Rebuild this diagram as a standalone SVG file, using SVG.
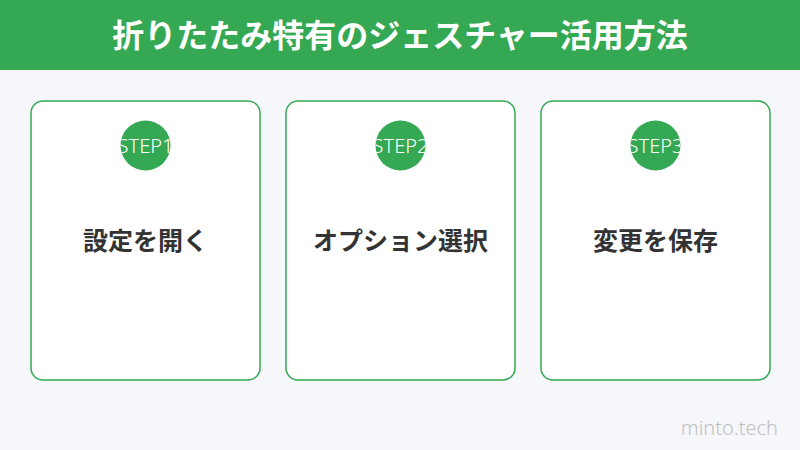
<svg xmlns="http://www.w3.org/2000/svg" width="800" height="450" viewBox="0 0 800 450">
<style>
.card{fill:#ffffff;stroke:#34a853;stroke-width:1.5}
.badge{fill:#34a853}
.step{font-family:"Noto Sans","Noto Sans CJK JP",sans-serif;font-weight:300;font-size:20px;fill:#ffffff;text-anchor:middle}
.label{font-family:"Noto Sans CJK JP",sans-serif;font-weight:700;font-size:25px;fill:#333333;text-anchor:middle}
.title{font-family:"Noto Sans CJK JP",sans-serif;font-weight:700;font-size:32px;fill:#ffffff;text-anchor:middle}
.wm{font-family:"Noto Sans","Noto Sans CJK JP",sans-serif;font-weight:300;font-size:20px;fill:#c0c0c0;text-anchor:end}
</style>
<defs>
<clipPath id="c1"><circle cx="145.5" cy="145.5" r="25"/></clipPath>
<clipPath id="c2"><circle cx="400.5" cy="145.5" r="25"/></clipPath>
<clipPath id="c3"><circle cx="655.5" cy="145.5" r="25"/></clipPath>
</defs>
<rect width="800" height="450" fill="#f5f7fa"/>
<g id="header">
<rect x="0" y="0" width="800" height="70" fill="#34a853"/>
<text class="title" x="400" y="47">折りたたみ特有のジェスチャー活用方法</text>
</g>
<g id="step1">
<rect class="card" x="31" y="101" width="229" height="279" rx="12"/>
<circle class="badge" cx="145.5" cy="145.5" r="25"/>
<text class="step" x="145.5" y="152.5" clip-path="url(#c1)">STEP1</text>
<text class="label" x="145.5" y="250">設定を開く</text>
</g>
<g id="step2">
<rect class="card" x="286" y="101" width="229" height="279" rx="12"/>
<circle class="badge" cx="400.5" cy="145.5" r="25"/>
<text class="step" x="400.5" y="152.5" clip-path="url(#c2)">STEP2</text>
<text class="label" x="400.5" y="250">オプション選択</text>
</g>
<g id="step3">
<rect class="card" x="541" y="101" width="229" height="279" rx="12"/>
<circle class="badge" cx="655.5" cy="145.5" r="25"/>
<text class="step" x="655.5" y="152.5" clip-path="url(#c3)">STEP3</text>
<text class="label" x="655.5" y="250">変更を保存</text>
</g>
<g id="connectors"/>
<text class="wm" x="778" y="435">minto.tech</text>
</svg>
